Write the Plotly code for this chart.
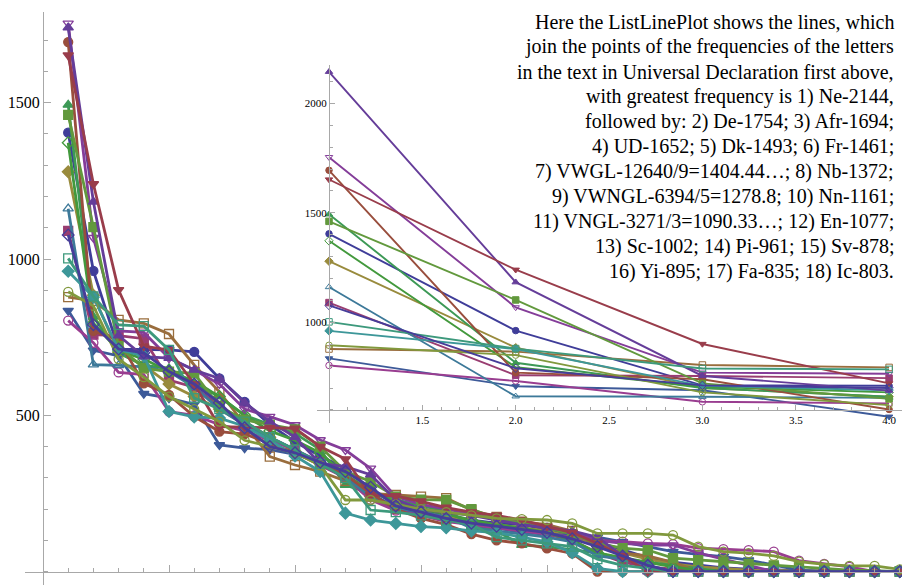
import colorsys
import plotly.graph_objects as go

# ---------------- data (letter frequencies, sorted descending) ----------------
positions = list(range(1, 35))

vwgl = [1404, 962, 712, 710, 709, 703, 618, 543, 470, 415, 370, 330, 262, 215, 195, 180, 165, 155, 150, 135, 115, 95, 70, 45, 30, 20, 12, 8, 5, 3, 2, 1, 0, 0]
vngl = [1090, 758, 755, 745, 613, 590, 530, 480, 430, 390, 350, 310, 240, 200, 185, 170, 150, 140, 130, 120, 100, 60, 30, 15, 8, 5, 3, 2, 1, 0, 0, 0, 0, 0]
vwngl = [1279, 884, 700, 660, 600, 560, 520, 470, 430, 385, 345, 300, 240, 210, 190, 175, 160, 150, 140, 130, 110, 90, 60, 40, 25, 15, 10, 5, 3, 2, 1, 0, 0, 0]
dk = [1493, 815, 700, 660, 650, 600, 560, 500, 470, 442, 390, 277, 250, 230, 210, 195, 150, 130, 85, 80, 70, 60, 40, 30, 20, 10, 0, 0, 0, 0, 0, 0, 0, 0]
fa = [835, 708, 690, 569, 555, 535, 405, 395, 390, 375, 350, 300, 250, 205, 180, 165, 150, 140, 125, 120, 115, 110, 95, 80, 64, 55, 48, 37, 21, 5, 0, 0, 0, 0]
ic = [803, 732, 637, 630, 512, 500, 470, 450, 420, 390, 340, 300, 230, 195, 180, 160, 150, 140, 130, 120, 110, 100, 96, 90, 88, 75, 72, 69, 64, 35, 25, 15, 0, 0]
sv = [878, 866, 805, 794, 760, 661, 575, 470, 368, 341, 320, 290, 250, 245, 240, 235, 197, 175, 160, 150, 130, 80, 60, 50, 30, 0, 0, 0, 0, 0, 0, 0, 0, 0]
nb = [1372, 795, 706, 680, 640, 610, 560, 500, 450, 420, 380, 310, 260, 220, 200, 185, 165, 150, 140, 125, 100, 60, 45, 30, 15, 5, 0, 0, 0, 0, 0, 0, 0, 0]
nn = [1161, 662, 660, 655, 640, 590, 520, 470, 430, 390, 350, 300, 240, 205, 190, 175, 140, 130, 120, 110, 95, 50, 40, 20, 0, 0, 0, 0, 0, 0, 0, 0, 0, 0]
de = [1754, 1068, 770, 765, 683, 645, 600, 520, 496, 469, 421, 389, 330, 240, 215, 200, 185, 170, 160, 140, 125, 100, 90, 85, 85, 60, 40, 20, 0, 0, 0, 0, 0, 0]
afr = [1694, 770, 740, 602, 565, 496, 448, 440, 410, 380, 340, 310, 250, 200, 170, 150, 120, 100, 90, 74, 58, 0, 0, 0, 0, 0, 0, 0, 0, 0, 0, 0, 0, 0]
fr = [1461, 1102, 721, 651, 640, 634, 528, 485, 470, 455, 400, 320, 288, 240, 230, 229, 200, 170, 155, 140, 120, 90, 75, 69, 43, 37, 32, 25, 20, 15, 10, 5, 3, 0]
pi = [961, 878, 710, 690, 512, 495, 491, 465, 420, 370, 320, 187, 165, 154, 144, 140, 130, 125, 110, 95, 60, 10, 0, 0, 0, 0, 0, 0, 0, 0, 0, 0, 0, 0]
ne = [1740, 1183, 755, 688, 683, 645, 618, 540, 480, 430, 346, 336, 310, 230, 200, 190, 180, 165, 150, 140, 130, 110, 50, 0, 0, 0, 0, 0, 0, 0, 0, 0, 0, 0]
ud = [1652, 1240, 901, 721, 709, 600, 464, 462, 460, 458, 400, 360, 245, 242, 225, 205, 190, 180, 165, 145, 125, 90, 50, 0, 0, 0, 0, 0, 0, 0, 0, 0, 0, 0]
yi = [895, 850, 680, 622, 560, 520, 480, 420, 400, 380, 340, 229, 229, 215, 200, 190, 180, 170, 168, 165, 154, 122, 122, 122, 117, 80, 64, 59, 50, 32, 23, 18, 18, 7]
sc = [1002, 880, 789, 785, 709, 555, 520, 480, 430, 390, 345, 300, 197, 190, 180, 165, 150, 110, 100, 90, 80, 40, 20, 10, 0, 0, 0, 0, 0, 0, 0, 0, 0, 0]
en = [1077, 790, 712, 700, 640, 600, 540, 460, 400, 380, 350, 320, 270, 210, 190, 170, 155, 145, 135, 125, 105, 80, 50, 20, 0, 0, 0, 0, 0, 0, 0, 0, 0, 0]

inset_positions = [1, 2, 3, 4]
ne_inset = [2144, 1183, 755, 688]

main_series = [vwgl, vngl, vwngl, dk, fa, ic, sv, nb, nn, de, afr, fr, pi, ne, ud, yi, sc, en]
inset_series = [vwgl[:4], vngl[:4], vwngl[:4], dk[:4], fa[:4], ic[:4], sv[:4], nb[:4], nn[:4],
                de[:4], afr[:4], fr[:4], pi[:4], ne_inset, ud[:4], yi[:4], sc[:4], en[:4]]

main_xticks = [5, 10, 15, 20, 25, 30]
main_yticks = [500, 1000, 1500]
inset_xticks = [1.5, 2.0, 2.5, 3.0, 3.5, 4.0]
inset_yticks = [1000, 1500, 2000]

note_lines = [
    "Here the ListLinePlot shows the lines, which",
    "join the points of the frequencies of the letters",
    "in the text in Universal Declaration first above,",
    "with greatest frequency is 1) Ne-2144,",
    "followed by: 2) De-1754; 3) Afr-1694;",
    "4) UD-1652; 5) Dk-1493; 6) Fr-1461;",
    "7) VWGL-12640/9=1404.44…; 8) Nb-1372;",
    "9) VWNGL-6394/5=1278.8; 10) Nn-1161;",
    "11) VNGL-3271/3=1090.33…; 12) En-1077;",
    "13) Sc-1002; 14) Pi-961; 15) Sv-878;",
    "16) Yi-895; 17) Fa-835; 18) Ic-803.",
]

# ---------------- styles ----------------
symbols = ["circle", "square", "diamond", "triangle-up", "triangle-down",
           "circle-open", "square-open", "diamond-open", "triangle-up-open", "triangle-down-open"]


def series_color(n):
    h = (0.67 + 2.0 * n / 1.6180339887) % 1.0
    r, g, b = colorsys.hsv_to_rgb(h, 0.6, 0.6)
    return "rgb(%d,%d,%d)" % (round(r * 255), round(g * 255), round(b * 255))


W, H = 902, 585
fig = go.Figure()

for i, vals in enumerate(main_series):
    c = series_color(i)
    sym = symbols[i % 10]
    fig.add_trace(go.Scatter(
        x=positions, y=vals, mode="lines+markers", xaxis="x", yaxis="y",
        line=dict(color=c, width=2.8),
        marker=dict(symbol=sym, size=9, color=c, line=dict(color=c, width=1.3)),
        showlegend=False, hoverinfo="skip"))

for i, vals in enumerate(inset_series):
    c = series_color(i)
    sym = symbols[i % 10]
    fig.add_trace(go.Scatter(
        x=inset_positions, y=vals, mode="lines+markers", xaxis="x2", yaxis="y2",
        line=dict(color=c, width=1.9),
        marker=dict(symbol=sym, size=6.5, color=c, line=dict(color=c, width=1)),
        showlegend=False, hoverinfo="skip"))

axis_col = "#a8a8a8"
serif = "Liberation Serif, Times New Roman, serif"

# main axes geometry (pixels -> values)
mx0_px, mx_scale = 43.0, 25.2        # x=0 at 43px, 25.2 px per unit
my0_px, my_scale = 571.6, 0.3126      # y=0 at 571.6px, px per unit
main_left_px, main_top_px = 25.0, 12.0

fig.update_layout(
    width=W, height=H,
    margin=dict(l=0, r=0, t=0, b=0, autoexpand=False),
    paper_bgcolor="white", plot_bgcolor="rgba(0,0,0,0)",
    xaxis=dict(
        domain=[main_left_px / W, 1.0],
        range=[(main_left_px - mx0_px) / mx_scale, (W - mx0_px) / mx_scale],
        anchor="free", position=(H - my0_px) / H, automargin=False,
        showline=True, linecolor=axis_col, linewidth=1,
        showgrid=False, zeroline=False,
        tickmode="array", tickvals=main_xticks,
        ticks="inside", ticklen=7, tickcolor=axis_col, tickwidth=1,
        ticklabelstandoff=4,
        tickfont=dict(family=serif, size=16, color="black"),
        minor=dict(tickmode="linear", tick0=0, dtick=1, ticks="inside",
                   ticklen=4, tickcolor=axis_col, tickwidth=1),
    ),
    yaxis=dict(
        domain=[0.0, 1.0 - main_top_px / H],
        range=[-(H - my0_px) / my_scale, (my0_px - main_top_px) / my_scale],
        anchor="free", position=mx0_px / W, automargin=False,
        showline=True, linecolor=axis_col, linewidth=1,
        showgrid=False, zeroline=False,
        tickmode="array", tickvals=main_yticks,
        ticks="inside", ticklen=7, tickcolor=axis_col, tickwidth=1,
        tickfont=dict(family=serif, size=16, color="black"),
        minor=dict(tickmode="linear", tick0=0, dtick=100, ticks="inside",
                   ticklen=4, tickcolor=axis_col, tickwidth=1),
    ),
)

# inset geometry
ix1_px, ix_scale = 329.0, 186.7       # x=1 at 329px
iy1000_px, iy_scale = 322.3, 0.219    # y=1000 at 322.3px
inset_left_px, inset_top_px, inset_bottom_px = 317.0, 65.0, 423.0
inset_axis_y = 600

fig.update_layout(
    xaxis2=dict(
        domain=[inset_left_px / W, 1.0],
        range=[1 + (inset_left_px - ix1_px) / ix_scale, 1 + (W - ix1_px) / ix_scale],
        anchor="free", automargin=False,
        position=1 - (iy1000_px + (1000 - inset_axis_y) * iy_scale) / H,
        showline=True, linecolor=axis_col, linewidth=1,
        showgrid=False, zeroline=False,
        tickmode="array", tickvals=inset_xticks, tickformat=".1f",
        ticks="inside", ticklen=5, tickcolor=axis_col,
        tickfont=dict(family=serif, size=11, color="black"),
        minor=dict(tickmode="linear", tick0=1, dtick=0.1, ticks="inside",
                   ticklen=3, tickcolor=axis_col),
    ),
    yaxis2=dict(
        domain=[1 - inset_bottom_px / H, 1 - inset_top_px / H],
        range=[1000 - (inset_bottom_px - iy1000_px) / iy_scale,
               1000 + (iy1000_px - inset_top_px) / iy_scale],
        anchor="free", position=ix1_px / W, automargin=False,
        showline=True, linecolor=axis_col, linewidth=1,
        showgrid=False, zeroline=False,
        tickmode="array", tickvals=inset_yticks,
        ticks="inside", ticklen=5, tickcolor=axis_col,
        tickfont=dict(family=serif, size=11, color="black"),
        minor=dict(tickmode="linear", tick0=0, dtick=100, ticks="inside",
                   ticklen=3, tickcolor=axis_col),
    ),
)

# note text, one annotation per line (25 px line pitch)
first_line_center_px, line_pitch_px = 22.0, 24.9
for k, line in enumerate(note_lines):
    fig.add_annotation(
        xref="paper", yref="paper", x=896 / W,
        y=1 - (first_line_center_px + k * line_pitch_px) / H,
        xanchor="right", yanchor="middle", align="right", showarrow=False,
        text=line, font=dict(family=serif, size=20, color="black"),
    )

fig.write_html(
    "out.html",
    config={"displayModeBar": False},
    post_script="document.body.style.margin='0px';document.body.style.overflow='hidden';",
)
